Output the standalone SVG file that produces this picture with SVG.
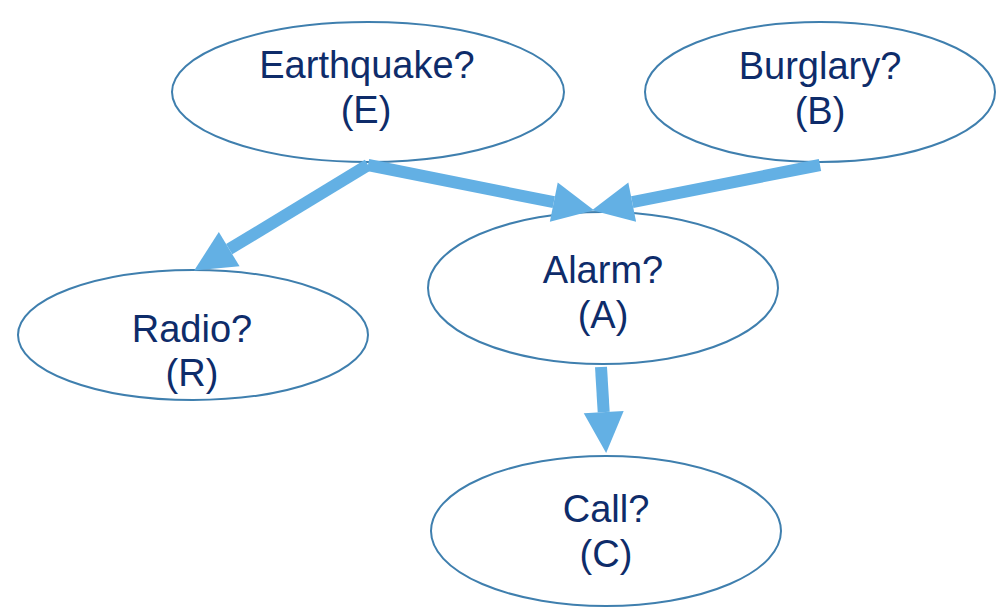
<svg xmlns="http://www.w3.org/2000/svg" width="999" height="609" viewBox="0 0 999 609">
<defs>
<style>
.node ellipse{fill:#ffffff;stroke:#3F7FAE;stroke-width:2}
.node text{font-family:"Liberation Sans",Arial,sans-serif;font-size:38px;fill:#0E2C6A;text-anchor:middle}
.edge{stroke:#63B0E4;stroke-width:12;fill:none}
</style>
<marker id="ah" markerUnits="userSpaceOnUse" markerWidth="44" markerHeight="44" viewBox="0 -22 42 44" refX="0" refY="0" orient="auto">
<path d="M0,-20 L41,0 L0,20 z" fill="#63B0E4"/>
</marker>
</defs>
<rect width="999" height="609" fill="#ffffff"/>
<g id="n-earthquake" class="node"><ellipse cx="368" cy="92" rx="196" ry="70"/><text x="367" y="78">Earthquake?</text><text x="366" y="123">(E)</text></g>
<g id="n-burglary" class="node"><ellipse cx="820" cy="92" rx="175" ry="70"/><text x="820" y="79">Burglary?</text><text x="820" y="124">(B)</text></g>
<g id="n-alarm" class="node"><ellipse cx="603" cy="288" rx="175" ry="76"/><text x="603" y="283">Alarm?</text><text x="603" y="328">(A)</text></g>
<g id="n-radio" class="node"><ellipse cx="193" cy="335" rx="175" ry="65"/><text x="192" y="342">Radio?</text><text x="192" y="386">(R)</text></g>
<g id="n-call" class="node"><ellipse cx="606" cy="531" rx="175" ry="75"/><text x="606" y="522">Call?</text><text x="606" y="567">(C)</text></g>
<g id="connectors">
<line class="edge" x1="368" y1="165" x2="553.8" y2="202.2" marker-end="url(#ah)"/>
<line class="edge" x1="820" y1="165" x2="632.2" y2="202.2" marker-end="url(#ah)"/>
<line class="edge" x1="368" y1="165" x2="229.2" y2="249.2" marker-end="url(#ah)"/>
<line class="edge" x1="601" y1="367" x2="603.7" y2="412.1" marker-end="url(#ah)"/>
</g>
</svg>
